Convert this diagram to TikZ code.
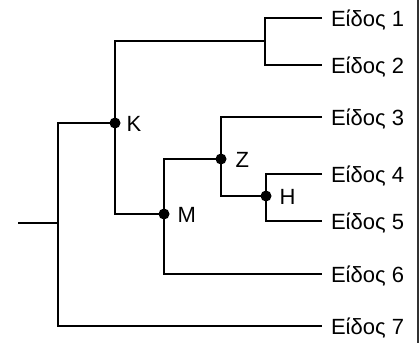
\documentclass[tikz,border=0pt]{standalone}
\usepackage{fontspec}
\setmainfont{Liberation Sans}
\begin{document}
\begin{tikzpicture}[x=1pt,y=-1pt,line width=2.1pt,line join=miter,
  dot/.style={circle,fill=black,inner sep=0pt,minimum size=11pt},
  lbl/.style={anchor=base west,inner sep=0pt,font=\fontsize{22}{26}\selectfont}]
\useasboundingbox (0,0) rectangle (419,343);
% positions
\coordinate (stem) at (18,223);
\coordinate (R) at (58,223);
\coordinate (K) at (115,123);
\coordinate (A) at (265,41);
\coordinate (M) at (164,214);
\coordinate (Z) at (221,159);
\coordinate (H) at (266,196);
\coordinate (l1) at (322,18);
\coordinate (l2) at (322,65);
\coordinate (l3) at (322,117);
\coordinate (l4) at (322,174);
\coordinate (l5) at (322,221);
\coordinate (l6) at (322,274);
\coordinate (l7) at (322,326);
% branches
\draw (stem) -- (R);
\draw (K) -| (R) |- (l7);
\draw (l1) -| (A) |- (l2);
\draw (A) -| (K) |- (M);
\draw (Z) -| (M) |- (l6);
\draw (l3) -| (Z) |- (H);
\draw (l4) -| (H) |- (l5);
% nodes
\node[dot] (Kd) at (K) {};
\node[dot] (Md) at (M) {};
\node[dot] (Zd) at (Z) {};
\node[dot] (Hd) at (H) {};
\node[lbl] (Kl) at (125.5,131) {K};
\node[lbl] (Ml) at (176.5,222) {M};
\node[lbl] (Zl) at (234.5,167) {Z};
\node[lbl] (Hl) at (278.5,204) {H};
% leaf labels
\node[lbl] (t1) at (330,26) {Είδος 1};
\node[lbl] (t2) at (330,73) {Είδος 2};
\node[lbl] (t3) at (330,125) {Είδος 3};
\node[lbl] (t4) at (330,182) {Είδος 4};
\node[lbl] (t5) at (330,229) {Είδος 5};
\node[lbl] (t6) at (330,282) {Είδος 6};
\node[lbl] (t7) at (330,334) {Είδος 7};
% right edge line
\draw[line width=1.5pt,black!80] (417.8,0) -- (417.8,343);
\end{tikzpicture}
\end{document}
